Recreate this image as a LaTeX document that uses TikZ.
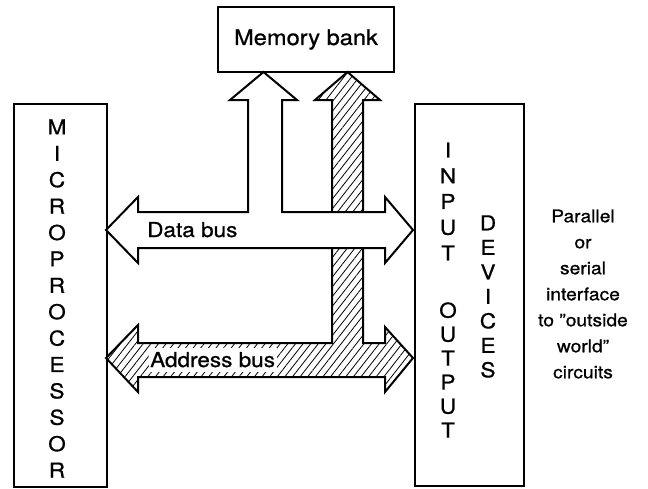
\documentclass[tikz,border=0pt]{standalone}
\usepackage{fontspec}
\setmainfont{TeX Gyre Heros}[FakeStretch=1.1,FakeBold=0.8]
\usetikzlibrary{patterns.meta}
\begin{document}
\begin{tikzpicture}[x=1pt,y=1pt,
  box/.style={draw,line width=2pt,fill=white,inner sep=0pt},
  bus/.style={draw,line width=2pt,line join=miter},
  hatch/.style={pattern={Lines[angle=52,distance=6pt,line width=0.8pt]}},
  vlet/.style={align=center,inner sep=0pt,font=\fontsize{20.5}{#1}\selectfont},
  lab/.style={inner sep=0pt,font=\fontsize{20.5}{24}\selectfont},
  side/.style={align=center,inner sep=0pt,font=\fontsize{17.5}{26}\selectfont}]
\useasboundingbox (0,0) rectangle (648,-488);

% boxes
\node[box,minimum width=176pt,minimum height=65pt,font=\fontsize{21.5}{24}\selectfont] (mem) at (306,-39.5) {Memory bank};
\node[box,minimum width=93pt,minimum height=383pt,anchor=north west] (mp) at (13,-103) {};
\node[box,minimum width=109pt,minimum height=382pt,anchor=north west] (io) at (414,-103) {};

% address bus (hatched)
\draw[bus,hatch,preaction={fill=white}]
  (106,-358) -- (138,-325) -- (138,-343) -- (332,-343) -- (332,-100)
  -- (315,-100) -- (347.5,-72) -- (380,-100) -- (363,-100) -- (363,-343)
  -- (385,-343) -- (385,-327) -- (413,-358) -- (385,-392) -- (385,-377)
  -- (138,-377) -- (138,-392) -- cycle;

% data bus (white)
\draw[bus,fill=white]
  (106,-230) -- (138,-197) -- (138,-212) -- (248,-212) -- (248,-100)
  -- (230,-100) -- (263.5,-72) -- (297,-100) -- (282,-100) -- (282,-212)
  -- (385,-212) -- (385,-197) -- (413,-230) -- (385,-263) -- (385,-248)
  -- (138,-248) -- (138,-263) -- cycle;

% bus labels
\node[lab,anchor=base west] (dlab) at (147,-237) {Data bus};
\node[lab,anchor=base west,fill=white,inner xsep=1.5pt,text height=19pt,text depth=5pt] (alab) at (148.5,-367) {Address bus};

% vertical letters
\node[vlet=26.4] (mptext) at (57,-298.5) {M\\I\\C\\R\\O\\P\\R\\O\\C\\E\\S\\S\\O\\R};
\node[vlet=25.75] (intext) at (448,-201.5) {I\\N\\P\\U\\T};
\node[vlet=24] (outtext) at (448,-370) {O\\U\\T\\P\\U\\T};
\node[vlet=24.5] (devtext) at (488,-296.5) {D\\E\\V\\I\\C\\E\\S};

% side text
\node[side] (sidetext) at (583,-294) {Parallel\\or\\serial\\interface\\to ''outside\\world''\\circuits};
\end{tikzpicture}
\end{document}
